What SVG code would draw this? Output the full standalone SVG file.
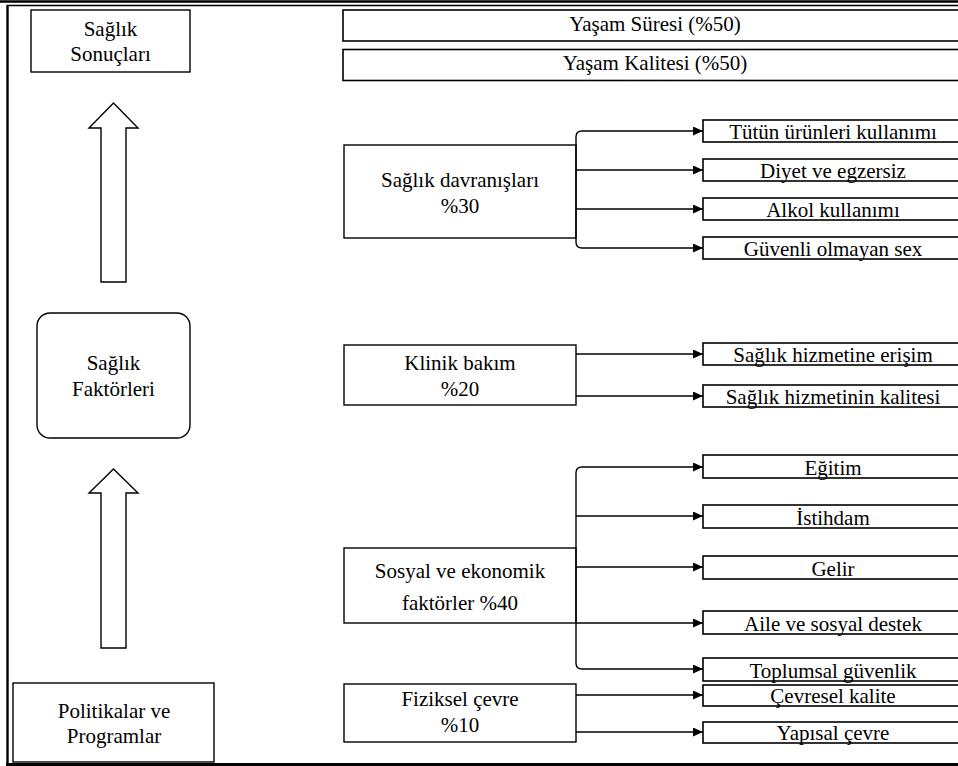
<svg xmlns="http://www.w3.org/2000/svg" width="958" height="766" viewBox="0 0 958 766">
<style>
.t{font-size:21px;fill:#000;text-anchor:middle}
.b{fill:#fff;stroke:#000;stroke-width:1.4}
.s{fill:#fff;stroke:#000;stroke-width:1.6}
.c{fill:none;stroke:#000;stroke-width:1.4}
.fr{stroke:#000;fill:none}
</style>
<defs>
<marker id="ah" markerUnits="userSpaceOnUse" markerWidth="10" markerHeight="9" refX="10" refY="4.5" orient="auto">
<path d="M0,0 L10,4.5 L0,9 z" fill="#000"/>
</marker>
</defs>
<rect width="958" height="766" fill="#fff"/>
<g id="frame">
<line class="fr" x1="0" y1="1.5" x2="958" y2="1.5" stroke-width="2.6"/>
<line class="fr" x1="7" y1="5.5" x2="958" y2="5.5" stroke-width="1.6"/>
<line class="fr" x1="7.5" y1="5" x2="7.5" y2="765" stroke-width="2.4"/>
<line class="fr" x1="6" y1="764.5" x2="958" y2="764.5" stroke-width="3"/>
</g>
<g id="saglik-sonuclari" font-family="Times New Roman">
<rect class="b" x="31" y="10" width="159" height="62"/>
<text class="t" x="110.5" y="36">Sağlık</text>
<text class="t" x="110.5" y="61">Sonuçları</text>
</g>
<g id="arrow-up-1">
<polygon class="b" points="113.5,103 138,128 126,128 126,282 101,282 101,128 89,128"/>
</g>
<g id="saglik-faktorleri" font-family="Times New Roman">
<rect class="b" x="37" y="313" width="153" height="125" rx="13" ry="13"/>
<text class="t" x="113.5" y="370">Sağlık</text>
<text class="t" x="113.5" y="396">Faktörleri</text>
</g>
<g id="arrow-up-2">
<polygon class="b" points="113.5,469 138,493 126,493 126,648 101,648 101,493 89,493"/>
</g>
<g id="politikalar" font-family="Times New Roman">
<rect class="b" x="13" y="683" width="201" height="79"/>
<text class="t" x="114" y="718">Politikalar ve</text>
<text class="t" x="114" y="743">Programlar</text>
</g>
<g id="yasam-suresi" font-family="Times New Roman">
<rect class="s" x="343" y="10" width="630" height="31"/>
<text class="t" x="655" y="31">Yaşam Süresi (%50)</text>
</g>
<g id="yasam-kalitesi" font-family="Times New Roman">
<rect class="s" x="343" y="49.5" width="630" height="31"/>
<text class="t" x="655" y="70">Yaşam Kalitesi (%50)</text>
</g>
<g font-family="Times New Roman">
<g id="saglik-davranislari">
<rect class="b" x="344" y="145" width="232" height="93"/>
<text class="t" x="460" y="187">Sağlık davranışları</text>
<text class="t" x="460" y="213">%30</text>
</g>
<g id="tutun"><rect class="s" x="703" y="120" width="270" height="22"/><text class="t" x="833" y="139">Tütün ürünleri kullanımı</text></g>
<g id="diyet"><rect class="s" x="703" y="159" width="270" height="22"/><text class="t" x="833" y="178">Diyet ve egzersiz</text></g>
<g id="alkol"><rect class="s" x="703" y="198" width="270" height="22"/><text class="t" x="833" y="217">Alkol kullanımı</text></g>
<g id="guvenli"><rect class="s" x="703" y="237" width="270" height="22"/><text class="t" x="833" y="256">Güvenli olmayan sex</text></g>
<g id="klinik-bakim">
<rect class="b" x="344" y="345" width="232" height="60"/>
<text class="t" x="460" y="370">Klinik bakım</text>
<text class="t" x="460" y="396">%20</text>
</g>
<g id="erisim"><rect class="s" x="703" y="343" width="270" height="22"/><text class="t" x="833" y="362">Sağlık hizmetine erişim</text></g>
<g id="kalite"><rect class="s" x="703" y="385" width="270" height="22"/><text class="t" x="833" y="404">Sağlık hizmetinin kalitesi</text></g>
<g id="sosyal-ekonomik">
<rect class="b" x="344" y="548" width="232" height="75"/>
<text class="t" x="460" y="578">Sosyal ve ekonomik</text>
<text class="t" x="460" y="610">faktörler %40</text>
</g>
<g id="egitim"><rect class="s" x="703" y="455" width="270" height="23"/><text class="t" x="833" y="475">Eğitim</text></g>
<g id="istihdam"><rect class="s" x="703" y="505" width="270" height="23"/><text class="t" x="833" y="525">İstihdam</text></g>
<g id="gelir"><rect class="s" x="703" y="556" width="270" height="23"/><text class="t" x="833" y="576">Gelir</text></g>
<g id="aile"><rect class="s" x="703" y="611" width="270" height="23"/><text class="t" x="833" y="631">Aile ve sosyal destek</text></g>
<g id="toplumsal"><rect class="s" x="703" y="658" width="270" height="23"/><text class="t" x="833" y="678">Toplumsal güvenlik</text></g>
<g id="fiziksel-cevre">
<rect class="b" x="344" y="684" width="232" height="58"/>
<text class="t" x="460" y="706">Fiziksel çevre</text>
<text class="t" x="460" y="732">%10</text>
</g>
<g id="cevresel"><rect class="s" x="703" y="685" width="270" height="21"/><text class="t" x="833" y="703">Çevresel kalite</text></g>
<g id="yapisal"><rect class="s" x="703" y="722" width="270" height="21"/><text class="t" x="833" y="740">Yapısal çevre</text></g>
</g>
<g id="connectors">
<path class="c" marker-end="url(#ah)" d="M576,190 V137 Q576,131 582,131 H703"/>
<path class="c" marker-end="url(#ah)" d="M576,170 H703"/>
<path class="c" marker-end="url(#ah)" d="M576,209 H703"/>
<path class="c" marker-end="url(#ah)" d="M576,190 V242 Q576,248 582,248 H703"/>
<path class="c" marker-end="url(#ah)" d="M576,354 H703"/>
<path class="c" marker-end="url(#ah)" d="M576,396 H703"/>
<path class="c" marker-end="url(#ah)" d="M576,560 V473 Q576,467 582,467 H703"/>
<path class="c" marker-end="url(#ah)" d="M576,516 H703"/>
<path class="c" marker-end="url(#ah)" d="M576,567 H703"/>
<path class="c" marker-end="url(#ah)" d="M576,623 H703"/>
<path class="c" marker-end="url(#ah)" d="M576,560 V663 Q576,669 582,669 H703"/>
<path class="c" marker-end="url(#ah)" d="M576,695 H703"/>
<path class="c" marker-end="url(#ah)" d="M576,732 H703"/>
</g>
</svg>
